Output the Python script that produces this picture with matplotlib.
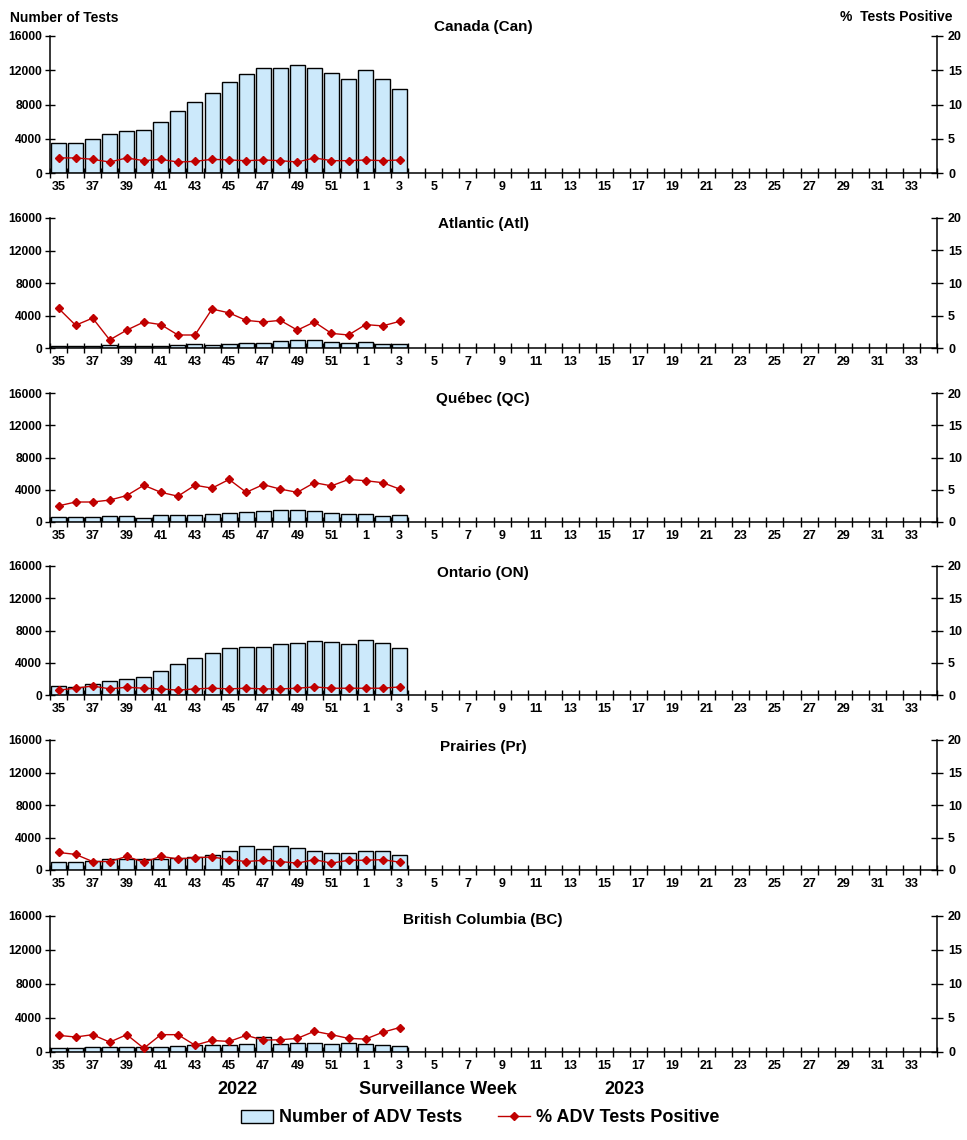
import matplotlib
matplotlib.use("Agg")
import matplotlib.pyplot as plt
from matplotlib.lines import Line2D
from matplotlib.patches import Patch
import numpy as np

plt.rcParams['font.family'] = ['Liberation Sans', 'DejaVu Sans']
plt.rcParams['font.weight'] = 'bold'

weeks = [str(w) for w in list(range(35, 53)) + list(range(1, 35))]

regions = ["Canada (Can)", "Atlantic (Atl)", "Québec (QC)", "Ontario (ON)",
           "Prairies (Pr)", "British Columbia (BC)"]

tests_can = [3500, 3500, 4000, 4500, 4900, 5000, 5900, 7200, 8300, 9300, 10600,
             11600, 12300, 12300, 12600, 12300, 11700, 11000, 12000, 11000, 9800]
pct_can = [2.2, 2.2, 2.0, 1.6, 2.2, 1.8, 2.0, 1.6, 1.7, 2.0, 1.9,
           1.8, 1.9, 1.8, 1.6, 2.2, 1.8, 1.8, 1.9, 1.8, 1.9]

tests_atl = [300, 300, 300, 400, 300, 300, 300, 400, 500, 400, 500,
             600, 600, 900, 1000, 1000, 700, 600, 700, 500, 500]
pct_atl = [6.1, 3.5, 4.6, 1.25, 2.75, 4.0, 3.6, 2.0, 2.0, 6.0, 5.4,
           4.25, 4.0, 4.25, 2.75, 4.0, 2.25, 2.0, 3.6, 3.4, 4.1]

tests_qc = [650, 650, 650, 750, 750, 500, 850, 850, 850, 1000, 1100,
            1250, 1400, 1500, 1500, 1400, 1100, 1000, 1000, 750, 850]
pct_qc = [2.5, 3.1, 3.1, 3.4, 4.1, 5.7, 4.6, 4.0, 5.7, 5.25, 6.6,
          4.6, 5.8, 5.1, 4.6, 6.1, 5.6, 6.6, 6.4, 6.1, 5.1]

tests_on = [1100, 1000, 1400, 1700, 2000, 2200, 3000, 3800, 4600, 5200, 5800,
            6000, 6000, 6300, 6500, 6700, 6600, 6300, 6800, 6500, 5800]
pct_on = [0.75, 1.05, 1.4, 0.95, 1.2, 1.05, 0.95, 0.75, 0.95, 1.05, 0.95,
          1.05, 0.95, 0.95, 1.05, 1.25, 1.05, 1.05, 1.05, 1.05, 1.25]

tests_pr = [950, 950, 1100, 1300, 1350, 1300, 1350, 1450, 1600, 1800, 2400,
            3000, 2600, 2900, 2750, 2300, 2150, 2050, 2400, 2300, 1900]
pct_pr = [2.7, 2.4, 1.3, 1.3, 2.1, 1.2, 2.1, 1.7, 1.9, 2.0, 1.6,
          1.3, 1.5, 1.3, 1.05, 1.6, 1.05, 1.5, 1.5, 1.6, 1.2]

tests_bc = [450, 450, 550, 550, 550, 550, 550, 700, 800, 800, 800,
            950, 1800, 950, 1050, 1050, 950, 1050, 950, 800, 700]
pct_bc = [2.45, 2.2, 2.55, 1.45, 2.55, 0.55, 2.55, 2.55, 1.0, 1.7, 1.55,
          2.45, 1.75, 1.8, 2.0, 3.05, 2.55, 2.0, 1.9, 2.9, 3.6]

tests_all = [tests_can, tests_atl, tests_qc, tests_on, tests_pr, tests_bc]
pct_all = [pct_can, pct_atl, pct_qc, pct_on, pct_pr, pct_bc]

left_ticks = [0, 4000, 8000, 12000, 16000]
right_ticks = [0, 5, 10, 15, 20]

BAR_COLOR = '#CCE9FB'
RED = '#C00000'

W, H = 967, 1140
fig = plt.figure(figsize=(W / 100, H / 100), dpi=100)

panels_px = [(36, 173), (218, 348), (393, 522), (566, 695), (740, 870), (916, 1052)]
title_px = [27, 224, 399, 573, 747, 920]
x0_px, x1_px = 50, 937

n = len(weeks)
xpos = np.arange(n)

for k, (top, bot) in enumerate(panels_px):
    ax = fig.add_axes([x0_px / W, 1 - bot / H, (x1_px - x0_px) / W, (bot - top) / H])
    vals = tests_all[k]
    ax.bar(xpos[:len(vals)], vals, width=0.88, color=BAR_COLOR,
           edgecolor='black', linewidth=1.0, zorder=2)
    ax.set_xlim(-0.5, n - 0.5)
    ax.set_ylim(0, 16000)
    ax.set_yticks(left_ticks)
    ax.set_yticklabels([str(t) for t in left_ticks], fontsize=8.7, fontweight='bold')
    ax.tick_params(axis='y', direction='inout', length=7, width=1, pad=2)
    ax.set_xticks(np.arange(n + 1) - 0.5)
    ax.set_xticklabels([])
    ax.set_xticks(xpos[::2], minor=True)
    ax.set_xticklabels(weeks[::2], minor=True, fontsize=9, fontweight='bold')
    ax.tick_params(axis='x', which='major', direction='inout', length=7, width=1)
    ax.tick_params(axis='x', which='minor', length=0, pad=6)
    ax.spines['top'].set_visible(False)
    ax.spines['right'].set_visible(False)
    for s in ['left', 'bottom']:
        ax.spines[s].set_linewidth(1.1)

    ax2 = ax.twinx()
    pv = pct_all[k]
    ax2.plot(xpos[:len(pv)], pv, color=RED, lw=1.0, marker='D', markersize=4.5,
             markerfacecolor=RED, markeredgecolor=RED, zorder=3)
    ax2.set_ylim(0, 20)
    ax2.set_xlim(-0.5, n - 0.5)
    ax2.set_yticks(right_ticks)
    ax2.set_yticklabels([str(t) for t in right_ticks], fontsize=9, fontweight='bold')
    ax2.tick_params(axis='y', direction='inout', length=8, width=1, pad=4)
    ax2.spines['top'].set_visible(False)
    ax2.spines['left'].set_visible(False)
    ax2.spines['right'].set_linewidth(1.1)
    ax2.spines['bottom'].set_visible(False)

    fig.text(483 / W, 1 - title_px[k] / H, regions[k], ha='center', va='center',
             fontsize=11, fontweight='bold')

fig.text(10 / W, 1 - 18 / H, "Number of Tests", ha='left', va='center',
         fontsize=10, fontweight='bold')
fig.text(953 / W, 1 - 17 / H, "%  Tests Positive", ha='right', va='center',
         fontsize=10, fontweight='bold')

fig.text(237 / W, 1 - 1090 / H, "2022", ha='center', va='center', fontsize=13, fontweight='bold')
fig.text(438 / W, 1 - 1090 / H, "Surveillance Week", ha='center', va='center', fontsize=13, fontweight='bold')
fig.text(624 / W, 1 - 1090 / H, "2023", ha='center', va='center', fontsize=13, fontweight='bold')

handles = [Patch(facecolor=BAR_COLOR, edgecolor='black', linewidth=1.0),
           Line2D([0], [0], color=RED, lw=1.0, marker='D', markersize=4,
                  markerfacecolor=RED, markeredgecolor=RED)]
fig.legend(handles, ["Number of ADV Tests", "% ADV Tests Positive"],
           loc='center', bbox_to_anchor=(480 / W, 1 - 1118 / H), ncol=2,
           frameon=False, prop={'size': 13, 'weight': 'bold'},
           handlelength=1.8, handletextpad=0.3, columnspacing=2.0)

fig.savefig("out.png", dpi=100)
